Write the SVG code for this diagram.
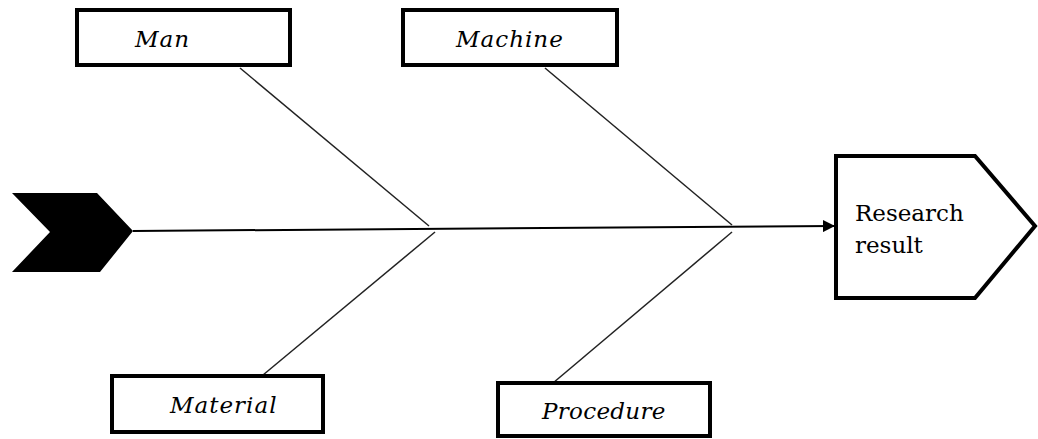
<svg xmlns="http://www.w3.org/2000/svg" width="1038" height="439" viewBox="0 0 1038 439">
<style>
.box{fill:#fff;stroke:#000;stroke-width:4}
.lbl{font-family:"DejaVu Serif",serif;font-style:italic;font-size:23px;letter-spacing:1px;fill:#000}
.bone{stroke:#222;stroke-width:1.5;fill:none}
.res{font-family:"DejaVu Serif",serif;font-size:23px;letter-spacing:0px;fill:#000}
</style>
<defs>
<marker id="ah" markerWidth="12" markerHeight="12" refX="11" refY="6" orient="auto" markerUnits="userSpaceOnUse">
<path d="M0,0 L12,6 L0,12 Z" fill="#000"/>
</marker>
</defs>
<g id="connectors">
<line x1="133" y1="231" x2="834" y2="226" stroke="#000" stroke-width="2" marker-end="url(#ah)"/>
<line class="bone" x1="240" y1="68" x2="429" y2="226"/>
<line class="bone" x1="435" y1="232" x2="263" y2="375"/>
<line class="bone" x1="545" y1="68" x2="732" y2="225"/>
<line class="bone" x1="732" y1="232" x2="553" y2="383"/>
</g>
<g id="head">
<path d="M12,193 L97,193 L133,231 L100,272 L12,272 L50,232 Z" fill="#000"/>
</g>
<g id="result">
<path class="box" d="M836,156 L975,156 L1035,226 L975,298 L836,298 Z"/>
<text class="res" x="855" y="221">Research</text>
<text class="res" x="855" y="253">result</text>
</g>
<g id="man">
<rect class="box" x="77" y="10" width="213" height="55"/>
<text class="lbl" x="135" y="47">Man</text>
</g>
<g id="machine">
<rect class="box" x="403" y="10" width="214" height="55"/>
<text class="lbl" x="456" y="47">Machine</text>
</g>
<g id="material">
<rect class="box" x="112" y="376" width="211" height="56"/>
<text class="lbl" x="170" y="413">Material</text>
</g>
<g id="procedure">
<rect class="box" x="498" y="383" width="212" height="53"/>
<text class="lbl" x="542" y="419" style="letter-spacing:0.3px">Procedure</text>
</g>
</svg>
